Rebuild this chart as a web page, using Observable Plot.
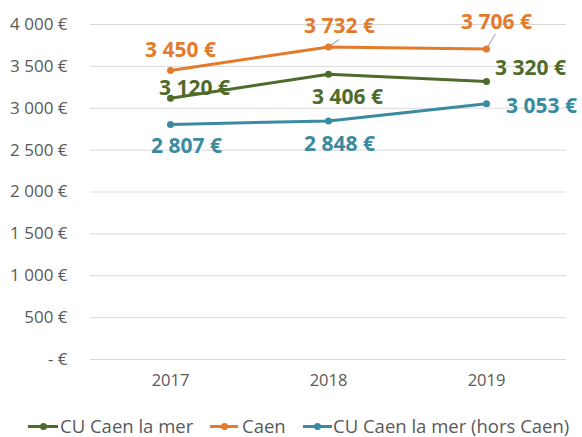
<!DOCTYPE html>
<html><head><meta charset="utf-8">
<script src="https://cdn.jsdelivr.net/npm/d3@7"></script>
<script src="https://cdn.jsdelivr.net/npm/@observablehq/plot@0.6"></script>
<style>
html,body{margin:0;background:#fff;font-family:"Open Sans",sans-serif;overflow:hidden;}
#legend{position:absolute;left:0;top:415px;width:582px;height:22px;font-size:18.5px;color:#595959;white-space:nowrap;}
.sw{position:absolute;top:10px;height:3px;}
.sw i{position:absolute;left:50%;margin-left:-3.5px;top:-2px;width:7px;height:7px;border-radius:50%;}
.tx{position:absolute;top:0;line-height:22px;}
</style></head><body>
<div id="chart"></div>
<div id="legend"></div>
<script>
const years = ["2017","2018","2019"];
const seriesNames = ["CU Caen la mer","Caen","CU Caen la mer (hors Caen)"];
const colors = ["#4f6b2b","#e47a2c","#3a8aa0"];
const cuValues = [3120, 3406, 3320];
const caenValues = [3450, 3732, 3706];
const horsValues = [2807, 2848, 3053];
const yTicks = [0,500,1000,1500,2000,2500,3000,3500,4000];
// label offsets (px) per series per year
const labelDx = [[24,19,44],[10,11,10],[16,11,55]];
const labelDy = [[-10,23,-13],[-20,-21,-27],[22,23,2]];
// leader lines for Caen labels: length px, angle deg
const caenLeaderLen = [0, 8, 12];
const caenLeaderAngle = [0, 55, 30];

const allValues = [cuValues, caenValues, horsValues];
const data = [];
allValues.forEach((vals,s)=>vals.forEach((v,i)=>data.push({series:seriesNames[s],year:years[i],value:v,dx:labelDx[s][i],dy:labelDy[s][i],color:colors[s]})));
const leaders = caenValues.map((v,i)=>({year:years[i],value:v,len:caenLeaderLen[i],angle:caenLeaderAngle[i]})).filter(d=>d.len>0);

const fmt = v => v===0 ? "- €" : d3.format(",")(v).replace(/,/g," ") + " €";
const lineShape = {draw(ctx, l){ ctx.moveTo(0,-3); ctx.lineTo(0,-3-l); }};

const chart = Plot.plot({
  width:582, height:405,
  marginLeft:90, marginRight:16, marginTop:24, marginBottom:46,
  style:{fontFamily:"Open Sans, sans-serif", background:"#fff"},
  x:{type:"point", domain:years, padding:0.5, label:null},
  y:{domain:[0,4000], label:null},
  color:{domain:seriesNames, range:colors},
  marks:[
    Plot.gridY(yTicks,{stroke:"#d9d9d9", strokeOpacity:1, strokeWidth:1}),
    Plot.axisY(yTicks,{tickSize:0, tickPadding:23, tickFormat:fmt, fontSize:17, fill:"#595959", label:null}),
    Plot.axisX({tickSize:0, tickPadding:15, fontSize:16.5, fill:"#595959", label:null}),
    Plot.vector(leaders,{x:"year", y:"value", length:"len", rotate:"angle", anchor:"start", shape:lineShape, stroke:"#a6a6a6", strokeWidth:1}),
    Plot.line(data,{x:"year", y:"value", z:"series", stroke:"series", strokeWidth:3}),
    Plot.dot(data,{x:"year", y:"value", fill:"series", r:3.5}),
    ...data.map(d=>Plot.text([d],{x:"year", y:"value", text:d=>fmt(d.value), dx:d.dx, dy:d.dy, fill:d.color, fontSize:21, fontWeight:"bold"}))
  ]
});
document.getElementById("chart").appendChild(chart);
const lg = document.getElementById("legend");
const legendLayout = [[28,30,60],[210,28,242],[303,29,333]];
seriesNames.forEach((n,i)=>{
  const [lx,lw,tx] = legendLayout[i];
  lg.insertAdjacentHTML("beforeend", `<span class="sw" style="left:${lx}px;width:${lw}px;background:${colors[i]}"><i style="background:${colors[i]}"></i></span><span class="tx" style="left:${tx}px">${n}</span>`);
});
</script>
</body></html>
